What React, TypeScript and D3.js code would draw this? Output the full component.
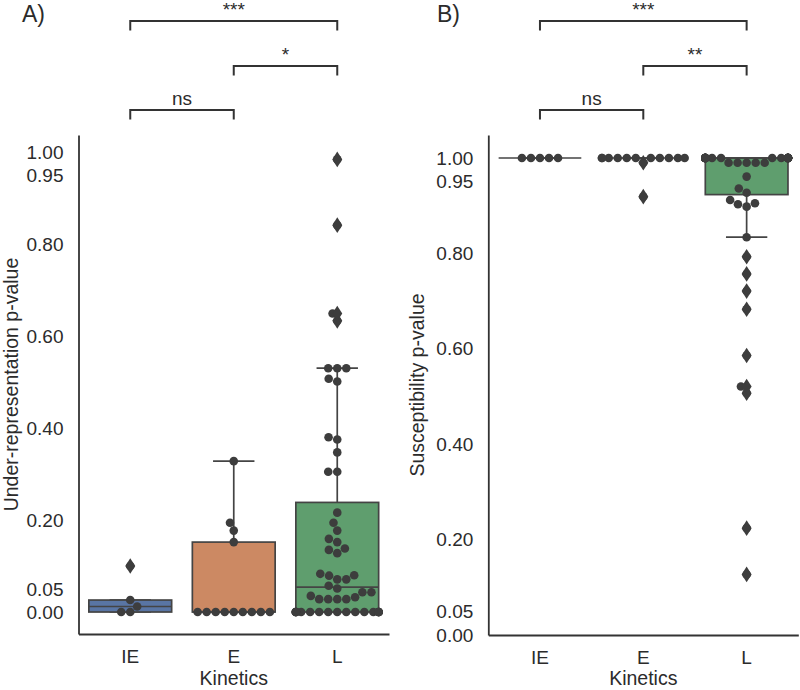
import * as d3 from "d3";
import { useEffect, useRef } from "react";

const kinetics = ["IE", "E", "L"];

// Panel A: under-representation p-values per kinetics group
const underIE = [0, 0, 0.012, 0.026, 0.1];
const underE = [0, 0, 0, 0, 0, 0, 0, 0, 0, 0.152, 0.177, 0.194, 0.328];
const underL = [
  0, 0, 0, 0, 0, 0, 0, 0, 0, 0, 0, 0, 0, 0, 0, 0, 0, 0, 0,
  0.028, 0.028, 0.028, 0.028, 0.032, 0.035, 0.043, 0.043, 0.051,
  0.057, 0.071, 0.071, 0.079, 0.08, 0.083, 0.128, 0.135, 0.138, 0.152,
  0.159, 0.177, 0.194, 0.216,
  0.305, 0.305, 0.347, 0.375, 0.38, 0.501, 0.507, 0.53, 0.53, 0.53,
  0.633, 0.649, 0.841, 0.984,
];

// Panel B: susceptibility p-values per kinetics group
const suscIE = [1, 1, 1, 1, 1];
const suscE = [1, 1, 1, 1, 1, 1, 1, 1, 1, 1, 1, 0.99, 0.919];
const suscL = [
  1, 1, 1, 1, 1, 1, 1, 1, 1, 1, 1, 1, 1, 1, 1, 1, 1, 1, 1, 1, 1, 1, 1, 1,
  1, 1, 1, 1, 1, 1, 1, 1, 1, 1,
  0.99, 0.99, 0.99, 0.99, 0.99,
  0.961, 0.936, 0.927, 0.912, 0.905, 0.903, 0.898, 0.834,
  0.793, 0.757, 0.721, 0.683, 0.586, 0.521, 0.507, 0.224, 0.127,
];

const yTicks = [0, 0.05, 0.2, 0.4, 0.6, 0.8, 0.95, 1.0];

const sigPairs = [
  ["IE", "L"],
  ["E", "L"],
  ["IE", "E"],
];
const sigLabelsA = ["***", "*", "ns"];
const sigLabelsB = ["***", "**", "ns"];

const palette = ["#5975a4", "#cc8963", "#5f9e6e"];
const FONT = "'Liberation Sans', Arial, Helvetica, sans-serif";
const INK = "#2b2b2b";
const LINE = "#444444";
const DOT = "#3d3d3d";

// seaborn-like beeswarm: place points bottom-up, nearest free slot to the midline
function beeswarm(
  values: number[],
  y: (v: number) => number,
  cx: number,
  r: number,
  half: number,
) {
  const d = 2 * r;
  const order = d3.range(values.length).sort((a, b) => values[a] - values[b]);
  const placed: { x: number; y: number; v: number }[] = [];
  for (const i of order) {
    const py = y(values[i]);
    const near = placed.filter((p) => Math.abs(p.y - py) < d);
    const cands = [cx];
    near.forEach((p) => {
      const dx = Math.sqrt(Math.max(d * d - (p.y - py) ** 2, 0)) * 1.05;
      cands.push(p.x - dx, p.x + dx);
    });
    cands.sort((a, b) => Math.abs(a - cx) - Math.abs(b - cx));
    const x =
      cands.find((c) =>
        near.every((p) => (p.x - c) ** 2 + (p.y - py) ** 2 >= d * d - 1e-6),
      ) ?? cx;
    placed.push({ x, y: py, v: values[i] });
  }
  // gutters: clamp points that overflow the category width
  return placed.map((p) => ({
    ...p,
    x: Math.max(cx - half, Math.min(cx + half, p.x)),
  }));
}

function boxStats(values: number[]) {
  const s = [...values].sort((a, b) => a - b);
  const q1 = d3.quantileSorted(s, 0.25) as number;
  const med = d3.quantileSorted(s, 0.5) as number;
  const q3 = d3.quantileSorted(s, 0.75) as number;
  const iqr = q3 - q1;
  const lo = d3.min(s.filter((v) => v >= q1 - 1.5 * iqr)) as number;
  const hi = d3.max(s.filter((v) => v <= q3 + 1.5 * iqr)) as number;
  const fliers = s.filter((v) => v < lo || v > hi);
  return { q1, med, q3, lo, hi, fliers };
}

interface PanelSpec {
  tag: string;
  tagX: number;
  yTitle: string;
  yTitleX: number;
  xRange: [number, number];
  yRange: [number, number];
  yDomain: [number, number];
  groups: number[][];
  sig: string[];
}

const panels: PanelSpec[] = [
  {
    tag: "A)",
    tagX: 22,
    yTitle: "Under-representation p-value",
    yTitleX: 17.5,
    xRange: [78.5, 389],
    yRange: [634, 135],
    yDomain: [-0.0478, 1.037],
    groups: [underIE, underE, underL],
    sig: sigLabelsA,
  },
  {
    tag: "B)",
    tagX: 437,
    yTitle: "Susceptibility p-value",
    yTitleX: 424,
    xRange: [488.3, 798.3],
    yRange: [635, 135],
    yDomain: [0, 1.0482],
    groups: [suscIE, suscE, suscL],
    sig: sigLabelsB,
  },
];

export default function App() {
  const svgRef = useRef<SVGSVGElement>(null);

  useEffect(() => {
    if (!svgRef.current) return;
    const svg = d3.select(svgRef.current);
    svg.selectAll("*").remove();

    const bracketY = [21, 66, 110];

    panels.forEach((pn) => {
      const x = d3.scaleBand().domain(kinetics).range(pn.xRange);
      const y = d3.scaleLinear().domain(pn.yDomain).range(pn.yRange);
      const step = x.step();
      const boxW = step * 0.8;
      const g = svg.append("g");

      // boxes
      pn.groups.forEach((vals, i) => {
        const cx = (x(kinetics[i]) as number) + x.bandwidth() / 2;
        const st = boxStats(vals);
        const bg = g.append("g");
        // whiskers
        bg.append("line")
          .attr("x1", cx).attr("x2", cx)
          .attr("y1", y(st.q3)).attr("y2", y(st.hi))
          .attr("stroke", LINE).attr("stroke-width", 1.7);
        bg.append("line")
          .attr("x1", cx).attr("x2", cx)
          .attr("y1", y(st.q1)).attr("y2", y(st.lo))
          .attr("stroke", LINE).attr("stroke-width", 1.7);
        [st.hi, st.lo].forEach((v) => {
          bg.append("line")
            .attr("x1", cx - boxW / 4).attr("x2", cx + boxW / 4)
            .attr("y1", y(v)).attr("y2", y(v))
            .attr("stroke", LINE).attr("stroke-width", 1.7);
        });
        bg.append("rect")
          .attr("x", cx - boxW / 2)
          .attr("y", y(st.q3))
          .attr("width", boxW)
          .attr("height", Math.max(0, y(st.q1) - y(st.q3)))
          .attr("fill", palette[i])
          .attr("stroke", LINE)
          .attr("stroke-width", 1.7);
        bg.append("line")
          .attr("x1", cx - boxW / 2).attr("x2", cx + boxW / 2)
          .attr("y1", y(st.med)).attr("y2", y(st.med))
          .attr("stroke", LINE).attr("stroke-width", 1.7);

        // swarm dots
        const pts = beeswarm(vals, y, cx, 4.3, boxW / 2);
        bg.selectAll("circle")
          .data(pts)
          .enter()
          .append("circle")
          .attr("cx", (d) => d.x)
          .attr("cy", (d) => d.y)
          .attr("r", 4.3)
          .attr("fill", DOT);

        // outlier diamonds
        bg.selectAll("path.flier")
          .data(st.fliers)
          .enter()
          .append("path")
          .attr("class", "flier")
          .attr("d", (v) => {
            const py = y(v);
            return `M${cx},${py - 7.8}L${cx + 5},${py}L${cx},${py + 7.8}L${cx - 5},${py}Z`;
          })
          .attr("fill", DOT);
      });

      // y axis
      const ya = g
        .append("g")
        .attr("transform", `translate(${pn.xRange[0]},0)`)
        .call(
          d3
            .axisLeft(y)
            .tickValues(yTicks)
            .tickSize(0)
            .tickSizeOuter(0)
            .tickPadding(15)
            .tickFormat(d3.format(".2f")),
        );
      ya.select(".domain").attr("stroke", "#333").attr("stroke-width", 1.8);
      ya.selectAll("text")
        .attr("font-size", 19)
        .attr("font-family", FONT)
        .attr("fill", INK);

      // x axis
      const xa = g
        .append("g")
        .attr("transform", `translate(0,${pn.yRange[0]})`)
        .call(d3.axisBottom(x).tickSize(0).tickSizeOuter(0).tickPadding(16));
      xa.select(".domain").attr("stroke", "#333").attr("stroke-width", 1.8);
      xa.selectAll("text")
        .attr("font-size", 19)
        .attr("font-family", FONT)
        .attr("fill", INK);

      // axis titles
      g.append("text")
        .attr("x", (pn.xRange[0] + pn.xRange[1]) / 2)
        .attr("y", 685)
        .attr("text-anchor", "middle")
        .attr("font-size", 19.5)
        .attr("font-family", FONT)
        .attr("fill", INK)
        .text("Kinetics");
      g.append("text")
        .attr(
          "transform",
          `translate(${pn.yTitleX},${(pn.yRange[0] + pn.yRange[1]) / 2}) rotate(-90)`,
        )
        .attr("text-anchor", "middle")
        .attr("font-size", 19.5)
        .attr("font-family", FONT)
        .attr("fill", INK)
        .text(pn.yTitle);

      // panel tag
      g.append("text")
        .attr("x", pn.tagX)
        .attr("y", 21.5)
        .attr("font-size", 23)
        .attr("font-family", FONT)
        .attr("fill", INK)
        .text(pn.tag);

      // significance brackets
      sigPairs.forEach(([a, b], k) => {
        const xa1 = (x(a) as number) + x.bandwidth() / 2;
        const xb1 = (x(b) as number) + x.bandwidth() / 2;
        const by = bracketY[k];
        g.append("path")
          .attr("d", `M${xa1},${by + 9.5}V${by}H${xb1}V${by + 9.5}`)
          .attr("fill", "none")
          .attr("stroke", "#333")
          .attr("stroke-width", 2);
        g.append("text")
          .attr("x", (xa1 + xb1) / 2)
          .attr("y", by - 5)
          .attr("text-anchor", "middle")
          .attr("font-size", 19)
          .attr("font-family", FONT)
          .attr("fill", INK)
          .text(pn.sig[k]);
      });
    });
  }, []);

  return (
    <svg
      ref={svgRef}
      width={800}
      height={690}
      style={{ position: "absolute", left: 0, top: 0 }}
    />
  );
}
